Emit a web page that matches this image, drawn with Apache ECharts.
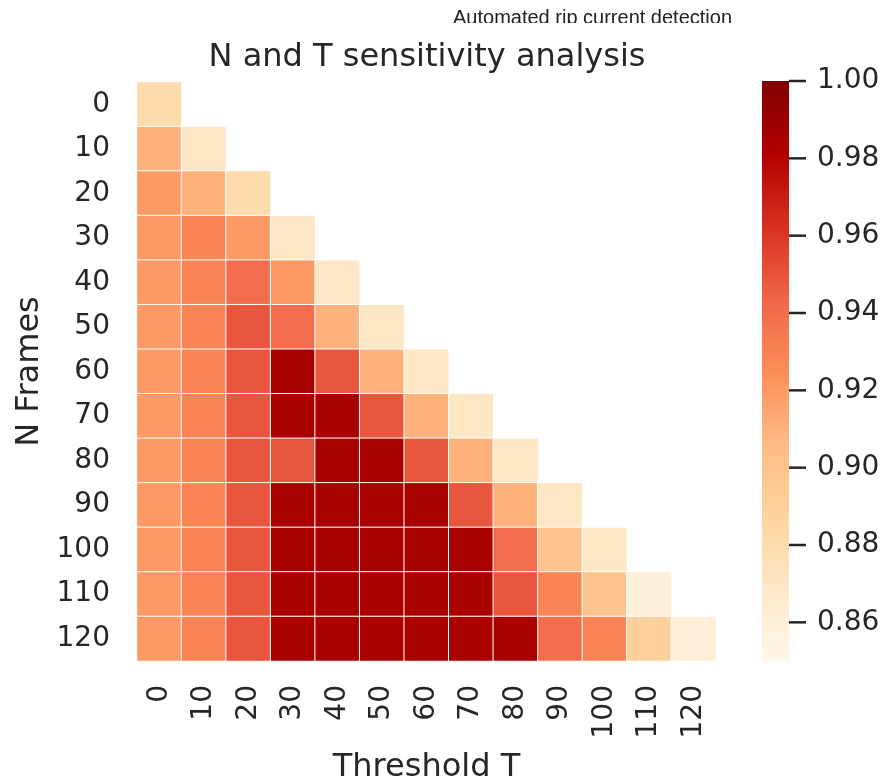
<!DOCTYPE html>
<html>
<head>
<meta charset="utf-8">
<script src="https://cdn.jsdelivr.net/npm/echarts@6/dist/echarts.min.js"></script>
<style>
  html, body { margin: 0; padding: 0; background: #fff; }
  #main { width: 882px; height: 783px; }
</style>
</head>
<body>
<div id="main"></div>
<script>
// N frames (rows) and threshold T (columns)
const nFrames = ['0', '10', '20', '30', '40', '50', '60', '70', '80', '90', '100', '110', '120']
const thresholds = ['0', '10', '20', '30', '40', '50', '60', '70', '80', '90', '100', '110', '120']

// lower triangle only, row i holds T = 0 .. N
const row0 = [0.881]
const row10 = [0.910, 0.870]
const row20 = [0.920, 0.910, 0.881]
const row30 = [0.920, 0.929, 0.920, 0.870]
const row40 = [0.920, 0.929, 0.940, 0.920, 0.870]
const row50 = [0.920, 0.929, 0.949, 0.940, 0.910, 0.870]
const row60 = [0.920, 0.929, 0.949, 0.985, 0.949, 0.910, 0.870]
const row70 = [0.920, 0.929, 0.949, 0.985, 0.985, 0.949, 0.910, 0.870]
const row80 = [0.920, 0.929, 0.949, 0.949, 0.985, 0.985, 0.949, 0.910, 0.870]
const row90 = [0.920, 0.929, 0.949, 0.985, 0.985, 0.985, 0.985, 0.949, 0.910, 0.870]
const row100 = [0.920, 0.929, 0.949, 0.985, 0.985, 0.985, 0.985, 0.985, 0.940, 0.900, 0.870]
const row110 = [0.920, 0.929, 0.949, 0.985, 0.985, 0.985, 0.985, 0.985, 0.949, 0.929, 0.900, 0.860]
const row120 = [0.920, 0.929, 0.949, 0.985, 0.985, 0.985, 0.985, 0.985, 0.985, 0.940, 0.929, 0.890, 0.860]
const rows = [row0, row10, row20, row30, row40, row50, row60, row70, row80, row90, row100, row110, row120]

// colour bar
const vMin = 0.85
const vMax = 1.0
const cbarTicks = [0.86, 0.88, 0.90, 0.92, 0.94, 0.96, 0.98, 1.00]

// OrRd
const orRd = ['#fff7ec', '#fee8c8', '#fdd49e', '#fdbb84', '#fc8d59', '#ef6548', '#d7301f', '#b30000', '#7f0000']

const cells = []
rows.forEach((r, i) => {
  r.forEach((v, j) => {
    cells.push([j, i, v])
  })
})

const textColor = '#262626'
const font = '"DejaVu Sans"'
const tickLen = 17

var myChart = echarts.init(document.getElementById('main'))
var option = {
  backgroundColor: '#fff',
  animation: false,
  title: {
    text: 'N and T sensitivity analysis',
    left: 422,
    textAlign: 'center',
    top: 37,
    textStyle: { fontFamily: font, fontSize: 32, fontWeight: 'normal', color: textColor }
  },
  graphic: [
    {
      type: 'text',
      x: 453,
      y: 18.5,
      style: { text: 'Automated rip current detection', font: '20px "Liberation Sans"', fill: '#222', verticalAlign: 'middle' }
    },
    {
      type: 'rect',
      left: 440,
      top: 23,
      shape: { width: 320, height: 12 },
      style: { fill: '#fff' },
      z: 100
    }
  ],
  grid: [
    { left: 137, top: 82, width: 579, height: 579, outerBoundsMode: 'none' },
    { left: 762, top: 81, width: 27, height: 580, outerBoundsMode: 'none' }
  ],
  xAxis: [
    {
      type: 'category',
      gridIndex: 0,
      data: thresholds,
      name: 'Threshold T',
      nameLocation: 'middle',
      nameGap: 91,
      nameTextStyle: { fontFamily: font, fontSize: 32, color: textColor },
      axisLine: { show: false },
      axisTick: { show: false },
      splitArea: { show: false },
      axisLabel: { rotate: 90, fontFamily: font, fontSize: 28, color: textColor, margin: 24, interval: 0 }
    },
    { type: 'value', gridIndex: 1, min: 0, max: 1, show: false }
  ],
  yAxis: [
    {
      type: 'category',
      gridIndex: 0,
      data: nFrames,
      inverse: true,
      name: 'N Frames',
      nameLocation: 'middle',
      nameRotate: 90,
      nameGap: 90,
      nameTextStyle: { fontFamily: font, fontSize: 32, color: textColor },
      axisLine: { show: false },
      axisTick: { show: false },
      splitArea: { show: false },
      axisLabel: { fontFamily: font, fontSize: 28, color: textColor, margin: 27, interval: 0 }
    },
    {
      type: 'value',
      gridIndex: 1,
      min: vMin,
      max: vMax,
      position: 'right',
      splitLine: { show: false },
      axisLine: { show: false },
      axisTick: { show: false },
      axisLabel: {
        customValues: cbarTicks,
        formatter: v => v.toFixed(2),
        fontFamily: font,
        fontSize: 28,
        color: textColor,
        margin: 28
      }
    }
  ],
  visualMap: {
    show: false,
    seriesIndex: 0,
    dimension: 2,
    min: vMin,
    max: vMax,
    inRange: { color: orRd }
  },
  series: [
    {
      type: 'heatmap',
      xAxisIndex: 0,
      yAxisIndex: 0,
      data: cells,
      itemStyle: { borderColor: '#fff', borderWidth: 1 }
    },
    {
      // colour bar: gradient strip plus its tick marks
      type: 'custom',
      xAxisIndex: 1,
      yAxisIndex: 1,
      data: [[0, vMin, 1, vMax]],
      renderItem: function (params, api) {
        const p0 = api.coord([api.value(0), api.value(1)])
        const p1 = api.coord([api.value(2), api.value(3)])
        const children = [{
          type: 'rect',
          shape: { x: p0[0], y: p1[1], width: p1[0] - p0[0], height: p0[1] - p1[1] },
          style: {
            fill: new echarts.graphic.LinearGradient(0, 1, 0, 0,
              orRd.map((c, k) => ({ offset: k / (orRd.length - 1), color: c })))
          }
        }]
        cbarTicks.forEach(t => {
          const p = api.coord([1, t])
          children.push({
            type: 'line',
            shape: { x1: p[0], y1: p[1], x2: p[0] + tickLen, y2: p[1] },
            style: { stroke: textColor, lineWidth: 2.5 }
          })
        })
        return { type: 'group', children: children }
      }
    }
  ]
}

option && myChart.setOption(option)
</script>
</body>
</html>
